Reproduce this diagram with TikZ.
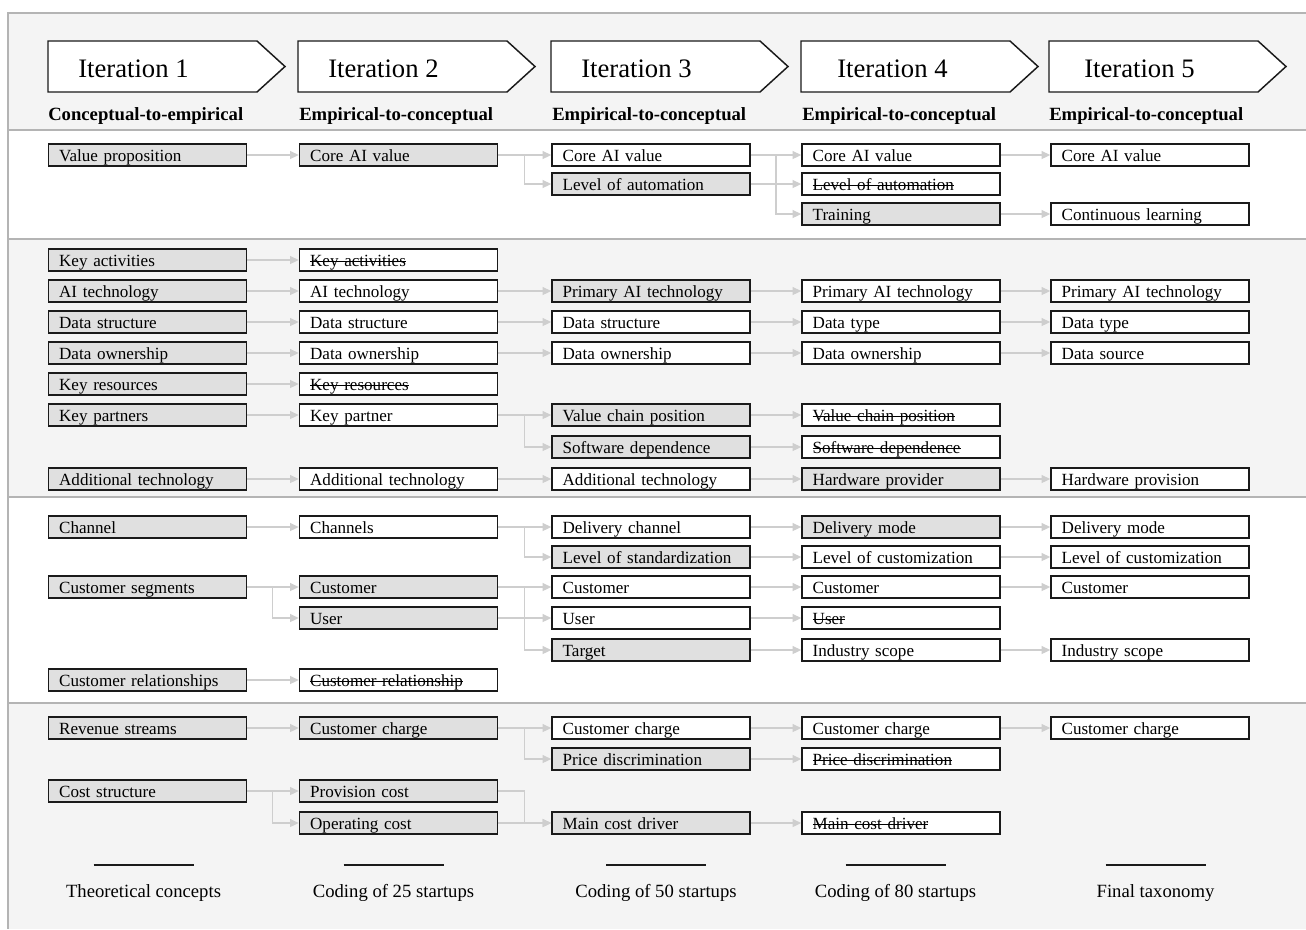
\documentclass[tikz,border=0pt]{standalone}
\usepackage{fontspec}
\setmainfont{Liberation Serif}
\newsavebox{\mystrikebox}
\newcommand{\mystrike}[1]{\leavevmode\sbox{\mystrikebox}{#1}\rlap{\raisebox{0.27em}{\rule{\wd\mystrikebox}{0.7pt}}}\usebox{\mystrikebox}}
\usetikzlibrary{arrows.meta}
\definecolor{bgg}{HTML}{F4F4F4}
\definecolor{boxg}{HTML}{E0E0E0}
\definecolor{conncol}{HTML}{CECECE}
\definecolor{sepcol}{HTML}{B4B4B4}
\definecolor{bord}{HTML}{1A1A1A}
\tikzset{
  bx/.style={draw=bord, line width=1.25pt, fill=white, inner xsep=8pt, inner ysep=0pt,
    text width=132.5pt, align=left, minimum height=16.5pt, text height=10pt, text depth=0pt,
    font=\fontsize{12.8}{14}\selectfont},
  gbx/.style={bx, fill=boxg},
  ar/.style={draw=conncol, line width=1.1pt, -{Triangle[length=6.5pt,width=6pt]}},
  seprule/.style={draw=sepcol, line width=1.1pt},
  itlabel/.style={anchor=base west, inner sep=0pt, font=\fontsize{20}{24}\selectfont},
  sublabel/.style={anchor=base west, inner sep=0pt, font=\fontsize{14}{16}\selectfont\bfseries},
  footlabel/.style={inner sep=0pt, font=\fontsize{14}{16}\selectfont},
  headshape/.style={draw=bord, line width=1.1pt, fill=white}
}
\begin{document}
\begin{tikzpicture}[x=0.75pt,y=-0.75pt]
\useasboundingbox (0,0) rectangle (1306,929);
% backgrounds
\fill[bgg] (8,13) rectangle (1306,929);
\fill[white] (8,130) rectangle (1306,239);
\fill[white] (8,497) rectangle (1306,703);
\draw[seprule] (1306,13) -- (8,13) -- (8,929);
\foreach \yy in {130,239,497,703} {\draw[seprule] (8,\yy) -- (1306,\yy);}

% header
\foreach \xx/\n/\tx/\sx/\sub in {48/1/78/48/Conceptual-to-empirical, 298/2/328/299/Empirical-to-conceptual, 551/3/581/552/Empirical-to-conceptual, 801/4/837/802/Empirical-to-conceptual, 1049/5/1084/1049/Empirical-to-conceptual} {
  \draw[headshape] (\xx,41) -- (\xx+209,41) -- (\xx+237,66.5) -- (\xx+209,92) -- (\xx,92) -- cycle;
  \node[itlabel] (it\n) at (\tx,77) {Iteration \n};
  \node[sublabel] (sub\n) at (\sx,120) {\sub};
}

% ---- section 1
\node[gbx] (vp) at (147.5,155) {Value proposition};
\node[gbx] (cav2) at (398.5,155) {Core AI value};
\node[bx]  (cav3) at (651,155) {Core AI value};
\node[gbx] (loa3) at (651,184) {Level of automation};
\node[bx]  (cav4) at (901,155) {Core AI value};
\node[bx]  (loa4) at (901,184) {\mystrike{Level of automation}};
\node[gbx] (tr4) at (901,214) {Training};
\node[bx]  (cav5) at (1150,155) {Core AI value};
\node[bx]  (cl5) at (1150,214) {Continuous learning};

\draw[ar] (vp.east) -- (cav2.west);
\draw[ar] (cav2.east) -- (cav3.west);
\draw[ar] (cav2.east) -- ++(26,0) |- (loa3.west);
\draw[ar] (cav3.east) -- (cav4.west);
\draw[ar] (cav3.east) -- ++(25,0) |- (tr4.west);
\draw[ar] (loa3.east) -- (loa4.west);
\draw[ar] (cav4.east) -- (cav5.west);
\draw[ar] (tr4.east) -- (cl5.west);

% ---- section 2
\node[gbx] (ka1) at (147.5,260) {Key activities};
\node[gbx] (ait1) at (147.5,291) {AI technology};
\node[gbx] (ds1) at (147.5,322) {Data structure};
\node[gbx] (do1) at (147.5,353) {Data ownership};
\node[gbx] (kr1) at (147.5,384) {Key resources};
\node[gbx] (kp1) at (147.5,415) {Key partners};
\node[gbx] (at1) at (147.5,479) {Additional technology};

\node[bx] (ka2) at (398.5,260) {\mystrike{Key activities}};
\node[bx] (ait2) at (398.5,291) {AI technology};
\node[bx] (ds2) at (398.5,322) {Data structure};
\node[bx] (do2) at (398.5,353) {Data ownership};
\node[bx] (kr2) at (398.5,384) {\mystrike{Key resources}};
\node[bx] (kp2) at (398.5,415) {Key partner};
\node[bx] (at2) at (398.5,479) {Additional technology};

\node[gbx] (pat3) at (651,291) {Primary AI technology};
\node[bx]  (ds3) at (651,322) {Data structure};
\node[bx]  (do3) at (651,353) {Data ownership};
\node[gbx] (vcp3) at (651,415) {Value chain position};
\node[gbx] (sd3) at (651,447) {Software dependence};
\node[bx]  (at3) at (651,479) {Additional technology};

\node[bx]  (pat4) at (901,291) {Primary AI technology};
\node[bx]  (dt4) at (901,322) {Data type};
\node[bx]  (do4) at (901,353) {Data ownership};
\node[bx]  (vcp4) at (901,415) {\mystrike{Value chain position}};
\node[bx]  (sd4) at (901,447) {\mystrike{Software dependence}};
\node[gbx] (hp4) at (901,479) {Hardware provider};

\node[bx] (pat5) at (1150,291) {Primary AI technology};
\node[bx] (dt5) at (1150,322) {Data type};
\node[bx] (dsrc5) at (1150,353) {Data source};
\node[bx] (hpn5) at (1150,479) {Hardware provision};

\foreach \a/\b in {ka1/ka2, ait1/ait2, ds1/ds2, do1/do2, kr1/kr2, kp1/kp2, at1/at2,
  ait2/pat3, ds2/ds3, do2/do3, kp2/vcp3, at2/at3,
  pat3/pat4, ds3/dt4, do3/do4, vcp3/vcp4, sd3/sd4, at3/hp4,
  pat4/pat5, dt4/dt5, do4/dsrc5, hp4/hpn5} {\draw[ar] (\a.east) -- (\b.west);}
\draw[ar] (kp2.east) -- ++(26,0) |- (sd3.west);

% ---- section 3
\node[gbx] (ch1) at (147.5,527) {Channel};
\node[gbx] (cs1) at (147.5,587) {Customer segments};
\node[gbx] (cr1) at (147.5,680) {Customer relationships};

\node[bx]  (ch2) at (398.5,527) {Channels};
\node[gbx] (cu2) at (398.5,587) {Customer};
\node[gbx] (us2) at (398.5,618) {User};
\node[bx]  (cr2) at (398.5,680) {\mystrike{Customer relationship}};

\node[bx]  (dc3) at (651,527) {Delivery channel};
\node[gbx] (los3) at (651,557) {Level of standardization};
\node[bx]  (cu3) at (651,587) {Customer};
\node[bx]  (us3) at (651,618) {User};
\node[gbx] (tg3) at (651,650) {Target};

\node[gbx] (dm4) at (901,527) {Delivery mode};
\node[bx]  (lc4) at (901,557) {Level of customization};
\node[bx]  (cu4) at (901,587) {Customer};
\node[bx]  (us4) at (901,618) {\mystrike{User}};
\node[bx]  (is4) at (901,650) {Industry scope};

\node[bx] (dm5) at (1150,527) {Delivery mode};
\node[bx] (lc5) at (1150,557) {Level of customization};
\node[bx] (cu5) at (1150,587) {Customer};
\node[bx] (is5) at (1150,650) {Industry scope};

\foreach \a/\b in {ch1/ch2, cs1/cu2, cr1/cr2,
  ch2/dc3, cu2/cu3, us2/us3,
  dc3/dm4, los3/lc4, cu3/cu4, us3/us4, tg3/is4,
  dm4/dm5, lc4/lc5, cu4/cu5, is4/is5} {\draw[ar] (\a.east) -- (\b.west);}
\draw[ar] (cs1.east) -- ++(25,0) |- (us2.west);
\draw[ar] (ch2.east) -- ++(26,0) |- (los3.west);
\draw[ar] (cu2.east) -- ++(26,0) |- (tg3.west);

% ---- section 4
\node[gbx] (rs1) at (147.5,728) {Revenue streams};
\node[gbx] (cst1) at (147.5,791) {Cost structure};

\node[gbx] (cc2) at (398.5,728) {Customer charge};
\node[gbx] (pc2) at (398.5,791) {Provision cost};
\node[gbx] (oc2) at (398.5,823) {Operating cost};

\node[bx]  (cc3) at (651,728) {Customer charge};
\node[gbx] (pd3) at (651,759) {Price discrimination};
\node[gbx] (mcd3) at (651,823) {Main cost driver};

\node[bx] (cc4) at (901,728) {Customer charge};
\node[bx] (pd4) at (901,759) {\mystrike{Price discrimination}};
\node[bx] (mcd4) at (901,823) {\mystrike{Main cost driver}};

\node[bx] (cc5) at (1150,728) {Customer charge};

\foreach \a/\b in {rs1/cc2, cst1/pc2, cc2/cc3, oc2/mcd3, cc3/cc4, pd3/pd4, mcd3/mcd4, cc4/cc5}
  {\draw[ar] (\a.east) -- (\b.west);}
\draw[ar] (cst1.east) -- ++(25,0) |- (oc2.west);
\draw[ar] (cc2.east) -- ++(26,0) |- (pd3.west);
\draw[ar] (pc2.east) -- ++(26,0) |- (mcd3.west);

% ---- footer
\foreach \cx/\lab/\nm in {143.5/Theoretical concepts/f1, 393.5/Coding of 25 startups/f2, 656/Coding of 50 startups/f3, 895.5/Coding of 80 startups/f4, 1155.5/Final taxonomy/f5} {
  \draw[line width=0.8pt, draw=bord] (\cx-50,865) -- (\cx+50,865);
  \node[footlabel] (\nm) at (\cx,893) {\lab};
}
\end{tikzpicture}
\end{document}
